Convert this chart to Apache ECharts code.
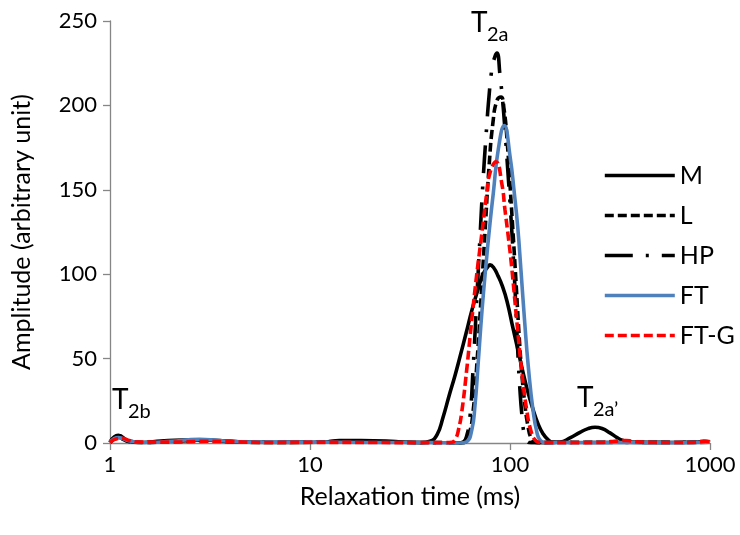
<!DOCTYPE html>
<html>
<head>
<meta charset="utf-8">
<script src="https://cdn.jsdelivr.net/npm/echarts@6/dist/echarts.min.js"></script>
<style>
html,body{margin:0;padding:0;background:#fff;}
#c{width:740px;height:535px;}
</style>
</head>
<body>
<div id="c"></div>
<script>
// ---- Data (relaxation time in ms, amplitude) ----
const seriesNames = ['M', 'L', 'HP', 'FT', 'FT-G'];
const xTickLabels = ['1', '10', '100', '1000'];
const yTickLabels = ['0', '50', '100', '150', '200', '250'];

const mTime = [1, 1.1, 1.25, 1.45, 1.8, 2.3, 3, 4, 5, 8, 12, 14, 18, 24, 30, 36, 39.8, 43.2, 46.2, 49.6, 53.1, 56.2, 60.3, 64.6, 69.2, 73.3, 77.6, 79.4, 83.2, 87.1, 91.2, 96.6, 103.5, 109.6, 116.1, 123.0, 130.3, 138.0, 146.2, 154.9, 164.1, 177.8, 199.5, 223.9, 245.5, 266.1, 288.4, 316.2, 342.8, 367.3, 400, 500, 650, 850, 930, 1000];
const mAmp = [0.5, 4.5, 1, 0.3, 1.2, 1.8, 1.8, 1, 0.5, 0.3, 0.6, 1.5, 1.5, 1.2, 0.4, 0.2, 1, 5, 15, 28, 40, 51, 65, 79, 91, 100, 104.5, 105.5, 103.5, 99, 93.5, 84, 68, 55, 42, 30, 20, 11.5, 5.5, 2, 0.5, 0.6, 3, 6.3, 8.5, 9.3, 8.6, 6, 3.2, 1.5, 0.5, 0.3, 0.3, 0.5, 1, 0.5];

const lTime = [1, 1.1, 1.25, 1.5, 2, 3, 4, 6, 10, 15, 20, 30, 45, 57.5, 59.6, 62.4, 65.3, 68.4, 71.6, 75.0, 78.5, 82.2, 86.1, 90.2, 93.3, 96.6, 100, 103.5, 107.2, 110.9, 114.8, 118.9, 123.0, 127.4, 133.4, 141.3, 160, 250, 400, 700, 1000];
const lAmp = [0.3, 3, 0.8, 0.3, 1, 1.5, 0.8, 0.3, 0.5, 1, 0.8, 0.3, 0.2, 0.1, 0.5, 5, 18, 48, 85, 125, 163, 190, 203, 205, 198, 180, 153, 125, 95, 65, 40, 22, 10, 3, 0.5, 0.2, 0.3, 0.4, 0.5, 0.3, 0.5];

const hpTime = [1, 1.1, 1.25, 1.5, 2, 3, 5, 10, 20, 40, 55, 58.2, 61.0, 63.1, 65.3, 68.4, 70.8, 73.3, 75.9, 78.5, 81.3, 84.1, 86.1, 89.1, 92.3, 94.4, 97.7, 101.2, 104.7, 107.2, 109.6, 112.2, 114.8, 117.5, 121.6, 127.4, 200, 400, 1000];
const hpAmp = [0.3, 3.5, 1, 0.3, 1, 1.5, 0.5, 0.5, 0.5, 0.2, 0.1, 0.5, 5, 15.6, 43, 88, 122, 155, 182, 205, 222, 229, 231, 218, 200, 185, 160, 133, 103, 78, 52, 31, 16, 6, 1, 0.2, 0.3, 0.3, 0.5];

const ftTime = [1, 1.1, 1.25, 1.5, 2, 2.8, 3.5, 5, 10, 20, 40, 56.2, 60.7, 64.4, 66.8, 69.4, 72.4, 75.9, 79.4, 82.5, 87.4, 93.6, 100, 105.1, 109.3, 113.5, 118.2, 123.5, 130.8, 136.5, 141.3, 149.6, 300, 600, 1000];
const ftAmp = [0.5, 3.2, 1.2, 0.3, 1, 2.2, 1.5, 0.5, 0.5, 0.3, 0.2, 0, 0.8, 7.7, 22, 48, 78, 106, 130, 148, 174, 188, 170, 148, 128, 102, 73, 45, 18, 6, 1.8, 0.2, 0.2, 0.2, 0.5];

const fgTime = [1, 1.08, 1.15, 1.25, 1.4, 2, 3, 4, 6, 10, 20, 35, 47.3, 51.3, 53.7, 55.3, 57.3, 60.7, 64.4, 68.2, 71.6, 73.5, 76.5, 79.4, 85.1, 90.9, 94.4, 98.1, 102.0, 108.0, 114.4, 121.2, 127.4, 133.4, 141.3, 200, 282, 320, 350, 380, 410, 450, 600, 800, 900, 950, 1000];
const fgAmp = [0.3, 2.5, 2.8, 1.5, 0.5, 0.5, 1, 0.8, 0.3, 0.4, 0.3, 0.2, 0.2, 0.5, 3, 8, 17.8, 43, 73, 100, 120, 131, 148, 160, 166.6, 154, 138, 122, 104, 73, 43, 19.5, 7, 1.8, 0.3, 0.2, 0.3, 0.8, 1.3, 1.5, 1.0, 0.5, 0.3, 0.3, 0.8, 1, 0.8];

// peak annotations: [main, subscript, anchor time, anchor amplitude]
const peakLabels = [
  ['T', '2a', 63.8, 248.8],
  ['T', '2b', 1.023, 25.5],
  ['T', '2a\u2019', 216, 26.7]
];

function pairs(t, a) { return t.map((v, i) => [v, a[i]]); }

const FONT = 'Lato, "Open Sans", sans-serif';
const AXIS_COLOR = '#868686';

const chart = echarts.init(document.getElementById('c'), null, {renderer: 'canvas'});

function mkSeries(name, t, a, color, type) {
  return {
    name: name, type: 'line', data: pairs(t, a),
    showSymbol: false, symbol: 'none', smooth: 0.5,
    lineStyle: {color: color, width: 3.6, type: type, cap: 'butt'},
    itemStyle: {color: color},
    animation: false, silent: true
  };
}

const option = {
  animation: false,
  backgroundColor: '#fff',
  grid: {left: 110, right: 30, top: 21, bottom: 92, containLabel: false, outerBoundsMode: 'none'},
  legend: {
    orient: 'vertical', left: 598, top: 158,
    itemWidth: 70, itemHeight: 14, itemGap: 15,
    data: seriesNames,
    itemStyle: {opacity: 0},
    lineStyle: {width: 3.6},
    textStyle: {fontFamily: FONT, fontSize: 25, color: '#000', lineHeight: 20},
    selectedMode: false
  },
  xAxis: {
    type: 'log', logBase: 10, min: 1, max: 1000,
    name: 'Relaxation time (ms)', nameLocation: 'middle', nameGap: 41,
    nameTextStyle: {fontFamily: FONT, fontSize: 25, color: '#000'},
    axisLine: {show: true, onZero: false, lineStyle: {color: AXIS_COLOR, width: 1.3}},
    axisTick: {show: true, length: 7, inside: false, lineStyle: {color: AXIS_COLOR, width: 1.3}},
    minorTick: {show: false},
    splitLine: {show: false},
    axisLabel: {
      margin: 11, fontFamily: FONT, fontSize: 22, color: '#000',
      formatter: function (v) { const s = String(Math.round(v)); return xTickLabels.indexOf(s) >= 0 ? s : ''; }
    }
  },
  yAxis: {
    type: 'value', min: 0, max: 250, interval: 50,
    name: 'Amplitude (arbitrary unit)', nameLocation: 'middle', nameGap: 76, nameRotate: 90,
    nameTextStyle: {fontFamily: FONT, fontSize: 25, color: '#000'},
    axisLine: {show: true, lineStyle: {color: AXIS_COLOR, width: 1.3}},
    axisTick: {show: true, length: 7, inside: false, lineStyle: {color: AXIS_COLOR, width: 1.3}},
    splitLine: {show: false},
    axisLabel: {
      margin: 13, fontFamily: FONT, fontSize: 22, color: '#000',
      formatter: function (v) { const s = String(v); return yTickLabels.indexOf(s) >= 0 ? s : ''; }
    }
  },
  series: [
    mkSeries('M', mTime, mAmp, '#000000', 'solid'),
    mkSeries('L', lTime, lAmp, '#000000', [9, 4]),
    mkSeries('HP', hpTime, hpAmp, '#000000', [28, 13, 3, 13]),
    mkSeries('FT', ftTime, ftAmp, '#4F81BD', 'solid'),
    mkSeries('FT-G', fgTime, fgAmp, '#FF0000', [9, 4])
  ]
};
chart.setOption(option);

// peak labels placed through the chart's own coordinate conversion
function placeLabels() {
  const els = [];
  peakLabels.forEach(function (p) {
    const pt = chart.convertToPixel({gridIndex: 0}, [p[2], p[3]]);
    els.push({
      type: 'text', x: pt[0], y: pt[1], silent: true,
      style: {text: p[0], font: '28px ' + FONT, fill: '#000', align: 'left', verticalAlign: 'middle'}
    });
    els.push({
      type: 'text', x: pt[0] + 16, y: pt[1] + 12, silent: true,
      style: {text: p[1], font: '20px ' + FONT, fill: '#000', align: 'left', verticalAlign: 'middle'}
    });
  });
  chart.setOption({graphic: {elements: els}});
}
placeLabels();
</script>
</body>
</html>
